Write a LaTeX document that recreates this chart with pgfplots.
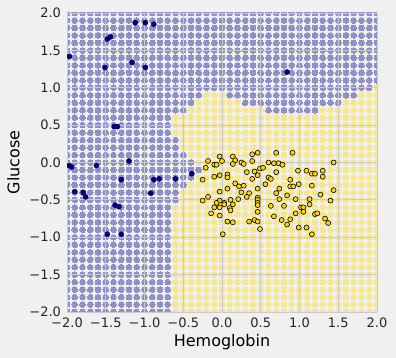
\documentclass[border=0pt]{standalone}
\usepackage{fontspec}
\setmainfont{DejaVu Sans}
\usepackage{pgfplots}
\pgfplotsset{compat=1.18}
\definecolor{bg}{RGB}{240,240,240}
\definecolor{gridc}{RGB}{203,203,203}
\definecolor{gblue}{RGB}{144,144,200}
\definecolor{gyellow}{RGB}{246,230,144}
\definecolor{dblue}{RGB}{0,0,139}
\definecolor{gold}{RGB}{255,215,0}
\pagecolor{bg}
\begin{document}
\begin{tikzpicture}
\begin{axis}[
 set layers,
 scale only axis, width=310pt, height=299pt,
 xmin=-2, xmax=2, ymin=-2, ymax=2,
 axis line style={draw=none},
 major tick length=0pt,
 xtick={-2,-1.5,-1,-0.5,0,0.5,1,1.5,2},
 ytick={-2,-1.5,-1,-0.5,0,0.5,1,1.5,2},
 xticklabels={−2.0,−1.5,−1.0,−0.5,0.0,0.5,1.0,1.5,2.0},
 yticklabels={−2.0,−1.5,−1.0,−0.5,0.0,0.5,1.0,1.5,2.0},
 tick label style={font=\fontsize{13}{15}\selectfont, text=black!85},
 xticklabel style={yshift=-2pt},
 yticklabel style={xshift=-2.5pt},
 grid=major, major grid style={gridc, line width=0.9pt},
 xlabel={Hemoglobin}, ylabel={Glucose},
 label style={font=\fontsize{16}{19}\selectfont},
 xlabel style={at={(axis description cs:0.5,-0.102)}, anchor=center},
 ylabel style={at={(axis description cs:-0.1726,0.5)}, anchor=center},
 clip mode=individual, clip marker paths=true,
]
% ---- grid of test points: class 1 (blue region)
\addplot[on layer=axis background, only marks, color=gblue, mark=*, mark size=2.85pt, mark options={solid, draw=gblue, fill=gblue, line width=0pt}] coordinates {
(-2,-2)(-1.9,-2)(-1.8,-2)(-1.7,-2)(-1.6,-2)(-1.5,-2)(-1.4,-2)(-1.3,-2)(-1.2,-2)(-1.1,-2)(-1,-2)(-0.9,-2)(-0.8,-2)(-0.7,-2)
(-2,-1.9)(-1.9,-1.9)(-1.8,-1.9)(-1.7,-1.9)(-1.6,-1.9)(-1.5,-1.9)(-1.4,-1.9)(-1.3,-1.9)(-1.2,-1.9)(-1.1,-1.9)(-1,-1.9)(-0.9,-1.9)(-0.8,-1.9)(-0.7,-1.9)
(-2,-1.8)(-1.9,-1.8)(-1.8,-1.8)(-1.7,-1.8)(-1.6,-1.8)(-1.5,-1.8)(-1.4,-1.8)(-1.3,-1.8)(-1.2,-1.8)(-1.1,-1.8)(-1,-1.8)(-0.9,-1.8)(-0.8,-1.8)(-0.7,-1.8)
(-2,-1.7)(-1.9,-1.7)(-1.8,-1.7)(-1.7,-1.7)(-1.6,-1.7)(-1.5,-1.7)(-1.4,-1.7)(-1.3,-1.7)(-1.2,-1.7)(-1.1,-1.7)(-1,-1.7)(-0.9,-1.7)(-0.8,-1.7)(-0.7,-1.7)
(-2,-1.6)(-1.9,-1.6)(-1.8,-1.6)(-1.7,-1.6)(-1.6,-1.6)(-1.5,-1.6)(-1.4,-1.6)(-1.3,-1.6)(-1.2,-1.6)(-1.1,-1.6)(-1,-1.6)(-0.9,-1.6)(-0.8,-1.6)(-0.7,-1.6)
(-2,-1.5)(-1.9,-1.5)(-1.8,-1.5)(-1.7,-1.5)(-1.6,-1.5)(-1.5,-1.5)(-1.4,-1.5)(-1.3,-1.5)(-1.2,-1.5)(-1.1,-1.5)(-1,-1.5)(-0.9,-1.5)(-0.8,-1.5)(-0.7,-1.5)
(-2,-1.4)(-1.9,-1.4)(-1.8,-1.4)(-1.7,-1.4)(-1.6,-1.4)(-1.5,-1.4)(-1.4,-1.4)(-1.3,-1.4)(-1.2,-1.4)(-1.1,-1.4)(-1,-1.4)(-0.9,-1.4)(-0.8,-1.4)(-0.7,-1.4)
(-2,-1.3)(-1.9,-1.3)(-1.8,-1.3)(-1.7,-1.3)(-1.6,-1.3)(-1.5,-1.3)(-1.4,-1.3)(-1.3,-1.3)(-1.2,-1.3)(-1.1,-1.3)(-1,-1.3)(-0.9,-1.3)(-0.8,-1.3)(-0.7,-1.3)
(-2,-1.2)(-1.9,-1.2)(-1.8,-1.2)(-1.7,-1.2)(-1.6,-1.2)(-1.5,-1.2)(-1.4,-1.2)(-1.3,-1.2)(-1.2,-1.2)(-1.1,-1.2)(-1,-1.2)(-0.9,-1.2)(-0.8,-1.2)(-0.7,-1.2)
(-2,-1.1)(-1.9,-1.1)(-1.8,-1.1)(-1.7,-1.1)(-1.6,-1.1)(-1.5,-1.1)(-1.4,-1.1)(-1.3,-1.1)(-1.2,-1.1)(-1.1,-1.1)(-1,-1.1)(-0.9,-1.1)(-0.8,-1.1)(-0.7,-1.1)
(-2,-1)(-1.9,-1)(-1.8,-1)(-1.7,-1)(-1.6,-1)(-1.5,-1)(-1.4,-1)(-1.3,-1)(-1.2,-1)(-1.1,-1)(-1,-1)(-0.9,-1)(-0.8,-1)(-0.7,-1)
(-2,-0.9)(-1.9,-0.9)(-1.8,-0.9)(-1.7,-0.9)(-1.6,-0.9)(-1.5,-0.9)(-1.4,-0.9)(-1.3,-0.9)(-1.2,-0.9)(-1.1,-0.9)(-1,-0.9)(-0.9,-0.9)(-0.8,-0.9)(-0.7,-0.9)
(-2,-0.8)(-1.9,-0.8)(-1.8,-0.8)(-1.7,-0.8)(-1.6,-0.8)(-1.5,-0.8)(-1.4,-0.8)(-1.3,-0.8)(-1.2,-0.8)(-1.1,-0.8)(-1,-0.8)(-0.9,-0.8)(-0.8,-0.8)(-0.7,-0.8)
(-2,-0.7)(-1.9,-0.7)(-1.8,-0.7)(-1.7,-0.7)(-1.6,-0.7)(-1.5,-0.7)(-1.4,-0.7)(-1.3,-0.7)(-1.2,-0.7)(-1.1,-0.7)(-1,-0.7)(-0.9,-0.7)(-0.8,-0.7)(-0.7,-0.7)
(-2,-0.6)(-1.9,-0.6)(-1.8,-0.6)(-1.7,-0.6)(-1.6,-0.6)(-1.5,-0.6)(-1.4,-0.6)(-1.3,-0.6)(-1.2,-0.6)(-1.1,-0.6)(-1,-0.6)(-0.9,-0.6)(-0.8,-0.6)(-0.7,-0.6)
(-2,-0.5)(-1.9,-0.5)(-1.8,-0.5)(-1.7,-0.5)(-1.6,-0.5)(-1.5,-0.5)(-1.4,-0.5)(-1.3,-0.5)(-1.2,-0.5)(-1.1,-0.5)(-1,-0.5)(-0.9,-0.5)(-0.8,-0.5)(-0.7,-0.5)(-0.6,-0.5)
(-2,-0.4)(-1.9,-0.4)(-1.8,-0.4)(-1.7,-0.4)(-1.6,-0.4)(-1.5,-0.4)(-1.4,-0.4)(-1.3,-0.4)(-1.2,-0.4)(-1.1,-0.4)(-1,-0.4)(-0.9,-0.4)(-0.8,-0.4)(-0.7,-0.4)(-0.6,-0.4)
(-2,-0.3)(-1.9,-0.3)(-1.8,-0.3)(-1.7,-0.3)(-1.6,-0.3)(-1.5,-0.3)(-1.4,-0.3)(-1.3,-0.3)(-1.2,-0.3)(-1.1,-0.3)(-1,-0.3)(-0.9,-0.3)(-0.8,-0.3)(-0.7,-0.3)(-0.6,-0.3)(-0.5,-0.3)
(-2,-0.2)(-1.9,-0.2)(-1.8,-0.2)(-1.7,-0.2)(-1.6,-0.2)(-1.5,-0.2)(-1.4,-0.2)(-1.3,-0.2)(-1.2,-0.2)(-1.1,-0.2)(-1,-0.2)(-0.9,-0.2)(-0.8,-0.2)(-0.7,-0.2)(-0.6,-0.2)(-0.5,-0.2)(-0.4,-0.2)
(-2,-0.1)(-1.9,-0.1)(-1.8,-0.1)(-1.7,-0.1)(-1.6,-0.1)(-1.5,-0.1)(-1.4,-0.1)(-1.3,-0.1)(-1.2,-0.1)(-1.1,-0.1)(-1,-0.1)(-0.9,-0.1)(-0.8,-0.1)(-0.7,-0.1)(-0.6,-0.1)(-0.5,-0.1)(-0.4,-0.1)(-0.3,-0.1)
(-2,0)(-1.9,0)(-1.8,0)(-1.7,0)(-1.6,0)(-1.5,0)(-1.4,0)(-1.3,0)(-1.2,0)(-1.1,0)(-1,0)(-0.9,0)(-0.8,0)(-0.7,0)(-0.6,0)(-0.5,0)(-0.4,0)
(-2,0.1)(-1.9,0.1)(-1.8,0.1)(-1.7,0.1)(-1.6,0.1)(-1.5,0.1)(-1.4,0.1)(-1.3,0.1)(-1.2,0.1)(-1.1,0.1)(-1,0.1)(-0.9,0.1)(-0.8,0.1)(-0.7,0.1)(-0.6,0.1)(-0.5,0.1)
(-2,0.2)(-1.9,0.2)(-1.8,0.2)(-1.7,0.2)(-1.6,0.2)(-1.5,0.2)(-1.4,0.2)(-1.3,0.2)(-1.2,0.2)(-1.1,0.2)(-1,0.2)(-0.9,0.2)(-0.8,0.2)(-0.7,0.2)(-0.6,0.2)
(-2,0.3)(-1.9,0.3)(-1.8,0.3)(-1.7,0.3)(-1.6,0.3)(-1.5,0.3)(-1.4,0.3)(-1.3,0.3)(-1.2,0.3)(-1.1,0.3)(-1,0.3)(-0.9,0.3)(-0.8,0.3)(-0.7,0.3)(-0.6,0.3)
(-2,0.4)(-1.9,0.4)(-1.8,0.4)(-1.7,0.4)(-1.6,0.4)(-1.5,0.4)(-1.4,0.4)(-1.3,0.4)(-1.2,0.4)(-1.1,0.4)(-1,0.4)(-0.9,0.4)(-0.8,0.4)(-0.7,0.4)
(-2,0.5)(-1.9,0.5)(-1.8,0.5)(-1.7,0.5)(-1.6,0.5)(-1.5,0.5)(-1.4,0.5)(-1.3,0.5)(-1.2,0.5)(-1.1,0.5)(-1,0.5)(-0.9,0.5)(-0.8,0.5)(-0.7,0.5)
(-2,0.6)(-1.9,0.6)(-1.8,0.6)(-1.7,0.6)(-1.6,0.6)(-1.5,0.6)(-1.4,0.6)(-1.3,0.6)(-1.2,0.6)(-1.1,0.6)(-1,0.6)(-0.9,0.6)(-0.8,0.6)(-0.7,0.6)
(-2,0.7)(-1.9,0.7)(-1.8,0.7)(-1.7,0.7)(-1.6,0.7)(-1.5,0.7)(-1.4,0.7)(-1.3,0.7)(-1.2,0.7)(-1.1,0.7)(-1,0.7)(-0.9,0.7)(-0.8,0.7)(-0.7,0.7)(-0.6,0.7)(-0.5,0.7)
(0.6,0.7)(0.7,0.7)(0.8,0.7)(0.9,0.7)(1,0.7)(1.1,0.7)(1.2,0.7)
(-2,0.8)(-1.9,0.8)(-1.8,0.8)(-1.7,0.8)(-1.6,0.8)(-1.5,0.8)(-1.4,0.8)(-1.3,0.8)(-1.2,0.8)(-1.1,0.8)(-1,0.8)(-0.9,0.8)(-0.8,0.8)(-0.7,0.8)(-0.6,0.8)(-0.5,0.8)(-0.4,0.8)
(0.3,0.8)(0.4,0.8)(0.5,0.8)(0.6,0.8)(0.7,0.8)(0.8,0.8)(0.9,0.8)(1,0.8)(1.1,0.8)(1.2,0.8)(1.3,0.8)(1.4,0.8)(1.5,0.8)
(-2,0.9)(-1.9,0.9)(-1.8,0.9)(-1.7,0.9)(-1.6,0.9)(-1.5,0.9)(-1.4,0.9)(-1.3,0.9)(-1.2,0.9)(-1.1,0.9)(-1,0.9)(-0.9,0.9)(-0.8,0.9)(-0.7,0.9)(-0.6,0.9)(-0.5,0.9)(-0.4,0.9)(-0.3,0.9)
(0.1,0.9)(0.2,0.9)(0.3,0.9)(0.4,0.9)(0.5,0.9)(0.6,0.9)(0.7,0.9)(0.8,0.9)(0.9,0.9)(1,0.9)(1.1,0.9)(1.2,0.9)(1.3,0.9)(1.4,0.9)(1.5,0.9)(1.6,0.9)(1.7,0.9)
(-2,1)(-1.9,1)(-1.8,1)(-1.7,1)(-1.6,1)(-1.5,1)(-1.4,1)(-1.3,1)(-1.2,1)(-1.1,1)(-1,1)(-0.9,1)(-0.8,1)(-0.7,1)(-0.6,1)(-0.5,1)(-0.4,1)(-0.3,1)(-0.2,1)(-0.1,1)(0,1)(0.1,1)(0.2,1)(0.3,1)(0.4,1)(0.5,1)(0.6,1)(0.7,1)(0.8,1)(0.9,1)(1,1)(1.1,1)(1.2,1)(1.3,1)(1.4,1)(1.5,1)(1.6,1)(1.7,1)(1.8,1)(1.9,1)
(-2,1.1)(-1.9,1.1)(-1.8,1.1)(-1.7,1.1)(-1.6,1.1)(-1.5,1.1)(-1.4,1.1)(-1.3,1.1)(-1.2,1.1)(-1.1,1.1)(-1,1.1)(-0.9,1.1)(-0.8,1.1)(-0.7,1.1)(-0.6,1.1)(-0.5,1.1)(-0.4,1.1)(-0.3,1.1)(-0.2,1.1)(-0.1,1.1)(0,1.1)(0.1,1.1)(0.2,1.1)(0.3,1.1)(0.4,1.1)(0.5,1.1)(0.6,1.1)(0.7,1.1)(0.8,1.1)(0.9,1.1)(1,1.1)(1.1,1.1)(1.2,1.1)(1.3,1.1)(1.4,1.1)(1.5,1.1)(1.6,1.1)(1.7,1.1)(1.8,1.1)(1.9,1.1)(2,1.1)
(-2,1.2)(-1.9,1.2)(-1.8,1.2)(-1.7,1.2)(-1.6,1.2)(-1.5,1.2)(-1.4,1.2)(-1.3,1.2)(-1.2,1.2)(-1.1,1.2)(-1,1.2)(-0.9,1.2)(-0.8,1.2)(-0.7,1.2)(-0.6,1.2)(-0.5,1.2)(-0.4,1.2)(-0.3,1.2)(-0.2,1.2)(-0.1,1.2)(0,1.2)(0.1,1.2)(0.2,1.2)(0.3,1.2)(0.4,1.2)(0.5,1.2)(0.6,1.2)(0.7,1.2)(0.8,1.2)(0.9,1.2)(1,1.2)(1.1,1.2)(1.2,1.2)(1.3,1.2)(1.4,1.2)(1.5,1.2)(1.6,1.2)(1.7,1.2)(1.8,1.2)(1.9,1.2)(2,1.2)
(-2,1.3)(-1.9,1.3)(-1.8,1.3)(-1.7,1.3)(-1.6,1.3)(-1.5,1.3)(-1.4,1.3)(-1.3,1.3)(-1.2,1.3)(-1.1,1.3)(-1,1.3)(-0.9,1.3)(-0.8,1.3)(-0.7,1.3)(-0.6,1.3)(-0.5,1.3)(-0.4,1.3)(-0.3,1.3)(-0.2,1.3)(-0.1,1.3)(0,1.3)(0.1,1.3)(0.2,1.3)(0.3,1.3)(0.4,1.3)(0.5,1.3)(0.6,1.3)(0.7,1.3)(0.8,1.3)(0.9,1.3)(1,1.3)(1.1,1.3)(1.2,1.3)(1.3,1.3)(1.4,1.3)(1.5,1.3)(1.6,1.3)(1.7,1.3)(1.8,1.3)(1.9,1.3)(2,1.3)
(-2,1.4)(-1.9,1.4)(-1.8,1.4)(-1.7,1.4)(-1.6,1.4)(-1.5,1.4)(-1.4,1.4)(-1.3,1.4)(-1.2,1.4)(-1.1,1.4)(-1,1.4)(-0.9,1.4)(-0.8,1.4)(-0.7,1.4)(-0.6,1.4)(-0.5,1.4)(-0.4,1.4)(-0.3,1.4)(-0.2,1.4)(-0.1,1.4)(0,1.4)(0.1,1.4)(0.2,1.4)(0.3,1.4)(0.4,1.4)(0.5,1.4)(0.6,1.4)(0.7,1.4)(0.8,1.4)(0.9,1.4)(1,1.4)(1.1,1.4)(1.2,1.4)(1.3,1.4)(1.4,1.4)(1.5,1.4)(1.6,1.4)(1.7,1.4)(1.8,1.4)(1.9,1.4)(2,1.4)
(-2,1.5)(-1.9,1.5)(-1.8,1.5)(-1.7,1.5)(-1.6,1.5)(-1.5,1.5)(-1.4,1.5)(-1.3,1.5)(-1.2,1.5)(-1.1,1.5)(-1,1.5)(-0.9,1.5)(-0.8,1.5)(-0.7,1.5)(-0.6,1.5)(-0.5,1.5)(-0.4,1.5)(-0.3,1.5)(-0.2,1.5)(-0.1,1.5)(0,1.5)(0.1,1.5)(0.2,1.5)(0.3,1.5)(0.4,1.5)(0.5,1.5)(0.6,1.5)(0.7,1.5)(0.8,1.5)(0.9,1.5)(1,1.5)(1.1,1.5)(1.2,1.5)(1.3,1.5)(1.4,1.5)(1.5,1.5)(1.6,1.5)(1.7,1.5)(1.8,1.5)(1.9,1.5)(2,1.5)
(-2,1.6)(-1.9,1.6)(-1.8,1.6)(-1.7,1.6)(-1.6,1.6)(-1.5,1.6)(-1.4,1.6)(-1.3,1.6)(-1.2,1.6)(-1.1,1.6)(-1,1.6)(-0.9,1.6)(-0.8,1.6)(-0.7,1.6)(-0.6,1.6)(-0.5,1.6)(-0.4,1.6)(-0.3,1.6)(-0.2,1.6)(-0.1,1.6)(0,1.6)(0.1,1.6)(0.2,1.6)(0.3,1.6)(0.4,1.6)(0.5,1.6)(0.6,1.6)(0.7,1.6)(0.8,1.6)(0.9,1.6)(1,1.6)(1.1,1.6)(1.2,1.6)(1.3,1.6)(1.4,1.6)(1.5,1.6)(1.6,1.6)(1.7,1.6)(1.8,1.6)(1.9,1.6)(2,1.6)
(-2,1.7)(-1.9,1.7)(-1.8,1.7)(-1.7,1.7)(-1.6,1.7)(-1.5,1.7)(-1.4,1.7)(-1.3,1.7)(-1.2,1.7)(-1.1,1.7)(-1,1.7)(-0.9,1.7)(-0.8,1.7)(-0.7,1.7)(-0.6,1.7)(-0.5,1.7)(-0.4,1.7)(-0.3,1.7)(-0.2,1.7)(-0.1,1.7)(0,1.7)(0.1,1.7)(0.2,1.7)(0.3,1.7)(0.4,1.7)(0.5,1.7)(0.6,1.7)(0.7,1.7)(0.8,1.7)(0.9,1.7)(1,1.7)(1.1,1.7)(1.2,1.7)(1.3,1.7)(1.4,1.7)(1.5,1.7)(1.6,1.7)(1.7,1.7)(1.8,1.7)(1.9,1.7)(2,1.7)
(-2,1.8)(-1.9,1.8)(-1.8,1.8)(-1.7,1.8)(-1.6,1.8)(-1.5,1.8)(-1.4,1.8)(-1.3,1.8)(-1.2,1.8)(-1.1,1.8)(-1,1.8)(-0.9,1.8)(-0.8,1.8)(-0.7,1.8)(-0.6,1.8)(-0.5,1.8)(-0.4,1.8)(-0.3,1.8)(-0.2,1.8)(-0.1,1.8)(0,1.8)(0.1,1.8)(0.2,1.8)(0.3,1.8)(0.4,1.8)(0.5,1.8)(0.6,1.8)(0.7,1.8)(0.8,1.8)(0.9,1.8)(1,1.8)(1.1,1.8)(1.2,1.8)(1.3,1.8)(1.4,1.8)(1.5,1.8)(1.6,1.8)(1.7,1.8)(1.8,1.8)(1.9,1.8)(2,1.8)
(-2,1.9)(-1.9,1.9)(-1.8,1.9)(-1.7,1.9)(-1.6,1.9)(-1.5,1.9)(-1.4,1.9)(-1.3,1.9)(-1.2,1.9)(-1.1,1.9)(-1,1.9)(-0.9,1.9)(-0.8,1.9)(-0.7,1.9)(-0.6,1.9)(-0.5,1.9)(-0.4,1.9)(-0.3,1.9)(-0.2,1.9)(-0.1,1.9)(0,1.9)(0.1,1.9)(0.2,1.9)(0.3,1.9)(0.4,1.9)(0.5,1.9)(0.6,1.9)(0.7,1.9)(0.8,1.9)(0.9,1.9)(1,1.9)(1.1,1.9)(1.2,1.9)(1.3,1.9)(1.4,1.9)(1.5,1.9)(1.6,1.9)(1.7,1.9)(1.8,1.9)(1.9,1.9)(2,1.9)
(-2,2)(-1.9,2)(-1.8,2)(-1.7,2)(-1.6,2)(-1.5,2)(-1.4,2)(-1.3,2)(-1.2,2)(-1.1,2)(-1,2)(-0.9,2)(-0.8,2)(-0.7,2)(-0.6,2)(-0.5,2)(-0.4,2)(-0.3,2)(-0.2,2)(-0.1,2)(0,2)(0.1,2)(0.2,2)(0.3,2)(0.4,2)(0.5,2)(0.6,2)(0.7,2)(0.8,2)(0.9,2)(1,2)(1.1,2)(1.2,2)(1.3,2)(1.4,2)(1.5,2)(1.6,2)(1.7,2)(1.8,2)(1.9,2)(2,2)
};
% ---- grid of test points: class 0 (yellow region)
\addplot[on layer=axis background, only marks, color=gyellow, mark=*, mark size=2.85pt, mark options={solid, draw=gyellow, fill=gyellow, line width=0pt}] coordinates {
(-0.6,-2)(-0.5,-2)(-0.4,-2)(-0.3,-2)(-0.2,-2)(-0.1,-2)(0,-2)(0.1,-2)(0.2,-2)(0.3,-2)(0.4,-2)(0.5,-2)(0.6,-2)(0.7,-2)(0.8,-2)(0.9,-2)(1,-2)(1.1,-2)(1.2,-2)(1.3,-2)(1.4,-2)(1.5,-2)(1.6,-2)(1.7,-2)(1.8,-2)(1.9,-2)(2,-2)
(-0.6,-1.9)(-0.5,-1.9)(-0.4,-1.9)(-0.3,-1.9)(-0.2,-1.9)(-0.1,-1.9)(0,-1.9)(0.1,-1.9)(0.2,-1.9)(0.3,-1.9)(0.4,-1.9)(0.5,-1.9)(0.6,-1.9)(0.7,-1.9)(0.8,-1.9)(0.9,-1.9)(1,-1.9)(1.1,-1.9)(1.2,-1.9)(1.3,-1.9)(1.4,-1.9)(1.5,-1.9)(1.6,-1.9)(1.7,-1.9)(1.8,-1.9)(1.9,-1.9)(2,-1.9)
(-0.6,-1.8)(-0.5,-1.8)(-0.4,-1.8)(-0.3,-1.8)(-0.2,-1.8)(-0.1,-1.8)(0,-1.8)(0.1,-1.8)(0.2,-1.8)(0.3,-1.8)(0.4,-1.8)(0.5,-1.8)(0.6,-1.8)(0.7,-1.8)(0.8,-1.8)(0.9,-1.8)(1,-1.8)(1.1,-1.8)(1.2,-1.8)(1.3,-1.8)(1.4,-1.8)(1.5,-1.8)(1.6,-1.8)(1.7,-1.8)(1.8,-1.8)(1.9,-1.8)(2,-1.8)
(-0.6,-1.7)(-0.5,-1.7)(-0.4,-1.7)(-0.3,-1.7)(-0.2,-1.7)(-0.1,-1.7)(0,-1.7)(0.1,-1.7)(0.2,-1.7)(0.3,-1.7)(0.4,-1.7)(0.5,-1.7)(0.6,-1.7)(0.7,-1.7)(0.8,-1.7)(0.9,-1.7)(1,-1.7)(1.1,-1.7)(1.2,-1.7)(1.3,-1.7)(1.4,-1.7)(1.5,-1.7)(1.6,-1.7)(1.7,-1.7)(1.8,-1.7)(1.9,-1.7)(2,-1.7)
(-0.6,-1.6)(-0.5,-1.6)(-0.4,-1.6)(-0.3,-1.6)(-0.2,-1.6)(-0.1,-1.6)(0,-1.6)(0.1,-1.6)(0.2,-1.6)(0.3,-1.6)(0.4,-1.6)(0.5,-1.6)(0.6,-1.6)(0.7,-1.6)(0.8,-1.6)(0.9,-1.6)(1,-1.6)(1.1,-1.6)(1.2,-1.6)(1.3,-1.6)(1.4,-1.6)(1.5,-1.6)(1.6,-1.6)(1.7,-1.6)(1.8,-1.6)(1.9,-1.6)(2,-1.6)
(-0.6,-1.5)(-0.5,-1.5)(-0.4,-1.5)(-0.3,-1.5)(-0.2,-1.5)(-0.1,-1.5)(0,-1.5)(0.1,-1.5)(0.2,-1.5)(0.3,-1.5)(0.4,-1.5)(0.5,-1.5)(0.6,-1.5)(0.7,-1.5)(0.8,-1.5)(0.9,-1.5)(1,-1.5)(1.1,-1.5)(1.2,-1.5)(1.3,-1.5)(1.4,-1.5)(1.5,-1.5)(1.6,-1.5)(1.7,-1.5)(1.8,-1.5)(1.9,-1.5)(2,-1.5)
(-0.6,-1.4)(-0.5,-1.4)(-0.4,-1.4)(-0.3,-1.4)(-0.2,-1.4)(-0.1,-1.4)(0,-1.4)(0.1,-1.4)(0.2,-1.4)(0.3,-1.4)(0.4,-1.4)(0.5,-1.4)(0.6,-1.4)(0.7,-1.4)(0.8,-1.4)(0.9,-1.4)(1,-1.4)(1.1,-1.4)(1.2,-1.4)(1.3,-1.4)(1.4,-1.4)(1.5,-1.4)(1.6,-1.4)(1.7,-1.4)(1.8,-1.4)(1.9,-1.4)(2,-1.4)
(-0.6,-1.3)(-0.5,-1.3)(-0.4,-1.3)(-0.3,-1.3)(-0.2,-1.3)(-0.1,-1.3)(0,-1.3)(0.1,-1.3)(0.2,-1.3)(0.3,-1.3)(0.4,-1.3)(0.5,-1.3)(0.6,-1.3)(0.7,-1.3)(0.8,-1.3)(0.9,-1.3)(1,-1.3)(1.1,-1.3)(1.2,-1.3)(1.3,-1.3)(1.4,-1.3)(1.5,-1.3)(1.6,-1.3)(1.7,-1.3)(1.8,-1.3)(1.9,-1.3)(2,-1.3)
(-0.6,-1.2)(-0.5,-1.2)(-0.4,-1.2)(-0.3,-1.2)(-0.2,-1.2)(-0.1,-1.2)(0,-1.2)(0.1,-1.2)(0.2,-1.2)(0.3,-1.2)(0.4,-1.2)(0.5,-1.2)(0.6,-1.2)(0.7,-1.2)(0.8,-1.2)(0.9,-1.2)(1,-1.2)(1.1,-1.2)(1.2,-1.2)(1.3,-1.2)(1.4,-1.2)(1.5,-1.2)(1.6,-1.2)(1.7,-1.2)(1.8,-1.2)(1.9,-1.2)(2,-1.2)
(-0.6,-1.1)(-0.5,-1.1)(-0.4,-1.1)(-0.3,-1.1)(-0.2,-1.1)(-0.1,-1.1)(0,-1.1)(0.1,-1.1)(0.2,-1.1)(0.3,-1.1)(0.4,-1.1)(0.5,-1.1)(0.6,-1.1)(0.7,-1.1)(0.8,-1.1)(0.9,-1.1)(1,-1.1)(1.1,-1.1)(1.2,-1.1)(1.3,-1.1)(1.4,-1.1)(1.5,-1.1)(1.6,-1.1)(1.7,-1.1)(1.8,-1.1)(1.9,-1.1)(2,-1.1)
(-0.6,-1)(-0.5,-1)(-0.4,-1)(-0.3,-1)(-0.2,-1)(-0.1,-1)(0,-1)(0.1,-1)(0.2,-1)(0.3,-1)(0.4,-1)(0.5,-1)(0.6,-1)(0.7,-1)(0.8,-1)(0.9,-1)(1,-1)(1.1,-1)(1.2,-1)(1.3,-1)(1.4,-1)(1.5,-1)(1.6,-1)(1.7,-1)(1.8,-1)(1.9,-1)(2,-1)
(-0.6,-0.9)(-0.5,-0.9)(-0.4,-0.9)(-0.3,-0.9)(-0.2,-0.9)(-0.1,-0.9)(0,-0.9)(0.1,-0.9)(0.2,-0.9)(0.3,-0.9)(0.4,-0.9)(0.5,-0.9)(0.6,-0.9)(0.7,-0.9)(0.8,-0.9)(0.9,-0.9)(1,-0.9)(1.1,-0.9)(1.2,-0.9)(1.3,-0.9)(1.4,-0.9)(1.5,-0.9)(1.6,-0.9)(1.7,-0.9)(1.8,-0.9)(1.9,-0.9)(2,-0.9)
(-0.6,-0.8)(-0.5,-0.8)(-0.4,-0.8)(-0.3,-0.8)(-0.2,-0.8)(-0.1,-0.8)(0,-0.8)(0.1,-0.8)(0.2,-0.8)(0.3,-0.8)(0.4,-0.8)(0.5,-0.8)(0.6,-0.8)(0.7,-0.8)(0.8,-0.8)(0.9,-0.8)(1,-0.8)(1.1,-0.8)(1.2,-0.8)(1.3,-0.8)(1.4,-0.8)(1.5,-0.8)(1.6,-0.8)(1.7,-0.8)(1.8,-0.8)(1.9,-0.8)(2,-0.8)
(-0.6,-0.7)(-0.5,-0.7)(-0.4,-0.7)(-0.3,-0.7)(-0.2,-0.7)(-0.1,-0.7)(0,-0.7)(0.1,-0.7)(0.2,-0.7)(0.3,-0.7)(0.4,-0.7)(0.5,-0.7)(0.6,-0.7)(0.7,-0.7)(0.8,-0.7)(0.9,-0.7)(1,-0.7)(1.1,-0.7)(1.2,-0.7)(1.3,-0.7)(1.4,-0.7)(1.5,-0.7)(1.6,-0.7)(1.7,-0.7)(1.8,-0.7)(1.9,-0.7)(2,-0.7)
(-0.6,-0.6)(-0.5,-0.6)(-0.4,-0.6)(-0.3,-0.6)(-0.2,-0.6)(-0.1,-0.6)(0,-0.6)(0.1,-0.6)(0.2,-0.6)(0.3,-0.6)(0.4,-0.6)(0.5,-0.6)(0.6,-0.6)(0.7,-0.6)(0.8,-0.6)(0.9,-0.6)(1,-0.6)(1.1,-0.6)(1.2,-0.6)(1.3,-0.6)(1.4,-0.6)(1.5,-0.6)(1.6,-0.6)(1.7,-0.6)(1.8,-0.6)(1.9,-0.6)(2,-0.6)
(-0.5,-0.5)(-0.4,-0.5)(-0.3,-0.5)(-0.2,-0.5)(-0.1,-0.5)(0,-0.5)(0.1,-0.5)(0.2,-0.5)(0.3,-0.5)(0.4,-0.5)(0.5,-0.5)(0.6,-0.5)(0.7,-0.5)(0.8,-0.5)(0.9,-0.5)(1,-0.5)(1.1,-0.5)(1.2,-0.5)(1.3,-0.5)(1.4,-0.5)(1.5,-0.5)(1.6,-0.5)(1.7,-0.5)(1.8,-0.5)(1.9,-0.5)(2,-0.5)
(-0.5,-0.4)(-0.4,-0.4)(-0.3,-0.4)(-0.2,-0.4)(-0.1,-0.4)(0,-0.4)(0.1,-0.4)(0.2,-0.4)(0.3,-0.4)(0.4,-0.4)(0.5,-0.4)(0.6,-0.4)(0.7,-0.4)(0.8,-0.4)(0.9,-0.4)(1,-0.4)(1.1,-0.4)(1.2,-0.4)(1.3,-0.4)(1.4,-0.4)(1.5,-0.4)(1.6,-0.4)(1.7,-0.4)(1.8,-0.4)(1.9,-0.4)(2,-0.4)
(-0.4,-0.3)(-0.3,-0.3)(-0.2,-0.3)(-0.1,-0.3)(0,-0.3)(0.1,-0.3)(0.2,-0.3)(0.3,-0.3)(0.4,-0.3)(0.5,-0.3)(0.6,-0.3)(0.7,-0.3)(0.8,-0.3)(0.9,-0.3)(1,-0.3)(1.1,-0.3)(1.2,-0.3)(1.3,-0.3)(1.4,-0.3)(1.5,-0.3)(1.6,-0.3)(1.7,-0.3)(1.8,-0.3)(1.9,-0.3)(2,-0.3)
(-0.3,-0.2)(-0.2,-0.2)(-0.1,-0.2)(0,-0.2)(0.1,-0.2)(0.2,-0.2)(0.3,-0.2)(0.4,-0.2)(0.5,-0.2)(0.6,-0.2)(0.7,-0.2)(0.8,-0.2)(0.9,-0.2)(1,-0.2)(1.1,-0.2)(1.2,-0.2)(1.3,-0.2)(1.4,-0.2)(1.5,-0.2)(1.6,-0.2)(1.7,-0.2)(1.8,-0.2)(1.9,-0.2)(2,-0.2)
(-0.2,-0.1)(-0.1,-0.1)(0,-0.1)(0.1,-0.1)(0.2,-0.1)(0.3,-0.1)(0.4,-0.1)(0.5,-0.1)(0.6,-0.1)(0.7,-0.1)(0.8,-0.1)(0.9,-0.1)(1,-0.1)(1.1,-0.1)(1.2,-0.1)(1.3,-0.1)(1.4,-0.1)(1.5,-0.1)(1.6,-0.1)(1.7,-0.1)(1.8,-0.1)(1.9,-0.1)(2,-0.1)
(-0.3,0)(-0.2,0)(-0.1,0)(0,0)(0.1,0)(0.2,0)(0.3,0)(0.4,0)(0.5,0)(0.6,0)(0.7,0)(0.8,0)(0.9,0)(1,0)(1.1,0)(1.2,0)(1.3,0)(1.4,0)(1.5,0)(1.6,0)(1.7,0)(1.8,0)(1.9,0)(2,0)
(-0.4,0.1)(-0.3,0.1)(-0.2,0.1)(-0.1,0.1)(0,0.1)(0.1,0.1)(0.2,0.1)(0.3,0.1)(0.4,0.1)(0.5,0.1)(0.6,0.1)(0.7,0.1)(0.8,0.1)(0.9,0.1)(1,0.1)(1.1,0.1)(1.2,0.1)(1.3,0.1)(1.4,0.1)(1.5,0.1)(1.6,0.1)(1.7,0.1)(1.8,0.1)(1.9,0.1)(2,0.1)
(-0.5,0.2)(-0.4,0.2)(-0.3,0.2)(-0.2,0.2)(-0.1,0.2)(0,0.2)(0.1,0.2)(0.2,0.2)(0.3,0.2)(0.4,0.2)(0.5,0.2)(0.6,0.2)(0.7,0.2)(0.8,0.2)(0.9,0.2)(1,0.2)(1.1,0.2)(1.2,0.2)(1.3,0.2)(1.4,0.2)(1.5,0.2)(1.6,0.2)(1.7,0.2)(1.8,0.2)(1.9,0.2)(2,0.2)
(-0.5,0.3)(-0.4,0.3)(-0.3,0.3)(-0.2,0.3)(-0.1,0.3)(0,0.3)(0.1,0.3)(0.2,0.3)(0.3,0.3)(0.4,0.3)(0.5,0.3)(0.6,0.3)(0.7,0.3)(0.8,0.3)(0.9,0.3)(1,0.3)(1.1,0.3)(1.2,0.3)(1.3,0.3)(1.4,0.3)(1.5,0.3)(1.6,0.3)(1.7,0.3)(1.8,0.3)(1.9,0.3)(2,0.3)
(-0.6,0.4)(-0.5,0.4)(-0.4,0.4)(-0.3,0.4)(-0.2,0.4)(-0.1,0.4)(0,0.4)(0.1,0.4)(0.2,0.4)(0.3,0.4)(0.4,0.4)(0.5,0.4)(0.6,0.4)(0.7,0.4)(0.8,0.4)(0.9,0.4)(1,0.4)(1.1,0.4)(1.2,0.4)(1.3,0.4)(1.4,0.4)(1.5,0.4)(1.6,0.4)(1.7,0.4)(1.8,0.4)(1.9,0.4)(2,0.4)
(-0.6,0.5)(-0.5,0.5)(-0.4,0.5)(-0.3,0.5)(-0.2,0.5)(-0.1,0.5)(0,0.5)(0.1,0.5)(0.2,0.5)(0.3,0.5)(0.4,0.5)(0.5,0.5)(0.6,0.5)(0.7,0.5)(0.8,0.5)(0.9,0.5)(1,0.5)(1.1,0.5)(1.2,0.5)(1.3,0.5)(1.4,0.5)(1.5,0.5)(1.6,0.5)(1.7,0.5)(1.8,0.5)(1.9,0.5)(2,0.5)
(-0.6,0.6)(-0.5,0.6)(-0.4,0.6)(-0.3,0.6)(-0.2,0.6)(-0.1,0.6)(0,0.6)(0.1,0.6)(0.2,0.6)(0.3,0.6)(0.4,0.6)(0.5,0.6)(0.6,0.6)(0.7,0.6)(0.8,0.6)(0.9,0.6)(1,0.6)(1.1,0.6)(1.2,0.6)(1.3,0.6)(1.4,0.6)(1.5,0.6)(1.6,0.6)(1.7,0.6)(1.8,0.6)(1.9,0.6)(2,0.6)
(-0.4,0.7)(-0.3,0.7)(-0.2,0.7)(-0.1,0.7)(0,0.7)(0.1,0.7)(0.2,0.7)(0.3,0.7)(0.4,0.7)(0.5,0.7)
(1.3,0.7)(1.4,0.7)(1.5,0.7)(1.6,0.7)(1.7,0.7)(1.8,0.7)(1.9,0.7)(2,0.7)
(-0.3,0.8)(-0.2,0.8)(-0.1,0.8)(0,0.8)(0.1,0.8)(0.2,0.8)
(1.6,0.8)(1.7,0.8)(1.8,0.8)(1.9,0.8)(2,0.8)
(-0.2,0.9)(-0.1,0.9)(0,0.9)
(1.8,0.9)(1.9,0.9)(2,0.9)
(2,1)
};
% ---- observations: class 1
\addplot[only marks, color=dblue, mark=*, mark size=2.6pt, mark options={solid, fill=dblue, draw=black!50!dblue, line width=0.4pt}] coordinates {
(-1.12,1.87)(-0.99,1.87)(-0.88,1.85)(-1.48,1.65)(-1.44,1.68)(-1.97,1.42)(-1.16,1.34)(-1.51,1.27)(-0.99,1.27)
(-1.39,0.48)(-1.35,0.48)(0.84,1.21)
(-1.97,-0.04)(-1.94,-0.06)(-1.62,-0.04)(-1.20,0.02)(-1.30,-0.23)(-0.88,-0.23)(-0.81,-0.22)(-0.60,-0.22)(-0.39,-0.15)
(-1.90,-0.39)(-1.79,-0.40)(-1.76,-0.46)(-0.92,-0.41)(-1.38,-0.57)(-1.33,-0.59)(-1.48,-0.96)(-1.30,-0.96)
};
% ---- observations: class 0
\addplot[only marks, color=black, mark=*, mark size=2.5pt, mark options={solid, fill=gold, draw=black, line width=0.6pt}] coordinates {
(0.70,0.13)(0.91,0.13)(-0.03,0.08)(0.14,0.08)(0.39,0.11)(0.46,0.13)
(-0.18,0.02)(-0.10,-0.03)(-0.07,-0.03)(0.00,0.02)(0.17,0.03)(0.25,0.00)(0.28,-0.02)(0.39,0.02)(0.60,0.00)(0.67,-0.01)(0.73,-0.01)(0.78,-0.03)(1.44,0.00)
(-0.21,-0.07)(0.14,-0.02)
(0.32,-0.13)(0.42,-0.12)(0.49,-0.08)(0.53,-0.07)(0.70,-0.13)(0.98,-0.11)(1.09,-0.11)(1.16,-0.15)(1.20,-0.15)(1.30,-0.11)
(-0.25,-0.23)(-0.10,-0.19)(-0.03,-0.17)(0.07,-0.16)(0.07,-0.20)(0.39,-0.22)(0.46,-0.17)(0.60,-0.20)(0.63,-0.22)(0.88,-0.23)(1.30,-0.19)
(0.17,-0.28)(0.22,-0.32)(0.28,-0.31)(0.46,-0.35)(0.56,-0.29)(0.74,-0.35)(0.88,-0.32)(0.92,-0.32)(0.99,-0.29)(1.16,-0.31)(1.44,-0.37)
(-0.03,-0.39)(0.07,-0.35)(0.35,-0.41)(0.32,-0.46)(0.25,-0.40)(0.70,-0.41)(0.84,-0.44)(1.27,-0.43)
(-0.25,-0.51)(-0.18,-0.46)(-0.03,-0.51)(-0.07,-0.54)(0.03,-0.54)(0.11,-0.50)(0.14,-0.56)(0.21,-0.49)(0.46,-0.47)(0.46,-0.50)(0.46,-0.54)(0.46,-0.57)(0.74,-0.49)(0.95,-0.49)(1.13,-0.49)(1.40,-0.51)
(-0.10,-0.60)(-0.03,-0.60)(0.03,-0.56)(0.10,-0.61)(0.63,-0.58)(0.80,-0.58)(1.02,-0.60)(1.05,-0.60)(1.13,-0.56)
(-0.14,-0.68)(-0.03,-0.71)(0.46,-0.66)(0.67,-0.72)(0.77,-0.77)(0.88,-0.76)(0.95,-0.68)(1.05,-0.66)(1.20,-0.69)(1.23,-0.68)(1.33,-0.75)(1.37,-0.81)
(0.07,-0.79)(0.14,-0.80)(0.35,-0.79)(0.42,-0.77)(0.46,-0.79)(0.84,-0.83)(0.99,-0.87)(1.09,-0.87)(0.49,-0.89)
(0.01,-0.96)(1.16,-0.96)(0.11,-0.64)
};
\end{axis}
\pgfresetboundingbox
\useasboundingbox ([shift={(-67pt,-46pt)}]current axis.south west) rectangle ([shift={(19pt,13pt)}]current axis.north east);
\end{tikzpicture}
\end{document}
